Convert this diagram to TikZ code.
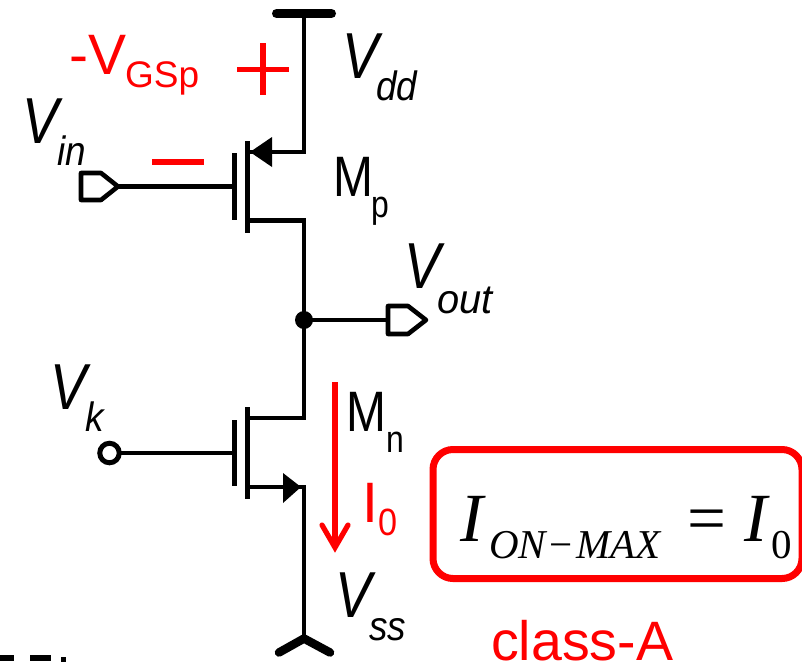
\documentclass[tikz,border=0pt]{standalone}
\usepackage{graphicx}
\usepackage{fontspec}
\setmainfont{Liberation Sans}
\newfontfamily\serifrm{Liberation Serif}
\definecolor{redA}{RGB}{255,0,0}
\tikzset{x=1pt,y=-1pt,
  wire/.style={line width=4.4pt,draw=black,line join=miter},
  plate/.style={line width=5pt,draw=black},
  pin/.style={line width=4.6pt,draw=black,fill=white,line join=round},
  rl/.style={text=redA,inner sep=0pt,anchor=base west},
  vv/.style={inner sep=0pt,anchor=base west,text=black},
  redline/.style={line width=5.2pt,draw=redA},
  bigv/.style={vv,font=\fontsize{65}{65}\selectfont\itshape},
  subv/.style={vv,font=\fontsize{41}{41}\selectfont\itshape},
  bigm/.style={vv,font=\fontsize{57}{57}\selectfont},
  subm/.style={vv,font=\fontsize{38}{38}\selectfont},
}
\newcommand{\nrw}[1]{\scalebox{.84}[1]{#1}}
\newcommand{\nrs}[1]{\scalebox{.9}[1]{#1}}
\begin{document}
\begin{tikzpicture}
\useasboundingbox (0,0) rectangle (802,662);
% supply rails
\coordinate (vddL) at (276.5,13.5); \coordinate (vddR) at (331.5,13.5);
\coordinate (vddT) at (304,13.5);
\node[circle,fill=black,inner sep=0pt,minimum size=18pt] (out) at (304,320) {};
\coordinate (vssT) at (304,638.5);
\coordinate (vssL) at (279,652.5); \coordinate (vssR) at (330,652.5);
\draw[line width=9pt,line cap=round] (vddL) -- (vddR);
\draw[wire] (vddT) -- (304,152) -- (250,152);
\draw[wire] (250,220.5) -- (304,220.5) -- (out.center) -- (304,418) -- (250,418);
\draw[wire] (250,487) -- (304,487) -- (vssT);
\draw[line width=8.5pt,line cap=round,line join=miter] (vssL) -- (vssT) -- (vssR);
% PMOS
\coordinate (pchT) at (247.5,141); \coordinate (pchB) at (247.5,233);
\coordinate (pgT) at (234.7,153); \coordinate (pgB) at (234.7,220);
\draw[plate] (pchT) -- (pchB);
\draw[plate] (pgT) -- (pgB);
\coordinate (pg) at (232,186.5);
\draw[fill=black,draw=none] (250,152) -- (272,137) -- (272,167) -- cycle;
% NMOS
\coordinate (nchT) at (247.5,407); \coordinate (nchB) at (247.5,499);
\coordinate (ngT) at (234.7,420); \coordinate (ngB) at (234.7,486);
\draw[plate] (nchT) -- (nchB);
\draw[plate] (ngT) -- (ngB);
\coordinate (ng) at (232,453);
\draw[fill=black,draw=none] (301,487) -- (283,473) -- (283,503) -- cycle;
% Vin pin
\draw[wire] (118,186.5) -- (pg);
\draw[pin] (81,173) -- (101,173) -- (118,186.5) -- (101,200) -- (81,200) -- cycle;
% Vout pin
\draw[wire] (out.center) -- (388,320);
\draw[pin] (388,306) -- (408,306) -- (426,320) -- (408,334) -- (388,334) -- cycle;
% Vk pin
\node[circle,draw=black,line width=5pt,fill=white,inner sep=0pt,outer sep=0pt,minimum size=19.5pt] (vk) at (109.5,453) {};
\draw[wire] (vk) -- (ng);
% labels
\node[bigv] (lvdd) at (342,78) {\nrw{V}};
\node[subv] (ldd) at (376,100) {\nrs{dd}};
\node[bigv] (lvin) at (22,143) {\nrw{V}};
\node[subv] (lin) at (57,165) {\nrs{in}};
\node[bigv] (lvout) at (404,288) {\nrw{V}};
\node[subv] (lo) at (437,313) {\scalebox{.97}[1]{out}};
\node[bigv] (lvk) at (50,409) {\nrw{V}};
\node[subv] (lk) at (85,431) {\nrs{k}};
\node[bigv] (lvss) at (335,617) {\nrw{V}};
\node[subv] (lss) at (369,640) {\nrs{ss}};
\node[bigm] (lmp) at (333,196) {\nrw{M}};
\node[subm] (lp) at (371,217) {\nrw{p}};
\node[bigm] (lmn) at (346,431) {\nrw{M}};
\node[subm] (ln) at (386,452) {\nrw{n}};
% red
\node[rl,font=\fontsize{57}{57}\selectfont] (lv) at (69,74) {-V};
\node[rl,font=\fontsize{37}{37}\selectfont] (lgsp) at (125,87) {GSp};
\coordinate (plusL) at (237,69.5); \coordinate (plusR) at (289,69.5);
\coordinate (plusT) at (263,43); \coordinate (plusB) at (263,95);
\draw[redline] (plusL) -- (plusR); \draw[redline] (plusT) -- (plusB);
\coordinate (minL) at (152,162); \coordinate (minR) at (204,162);
\draw[redline] (minL) -- (minR);
\coordinate (arT) at (335,382); \coordinate (arB) at (335,547);
\draw[redline] (arT) -- (arB);
\draw[redline,line cap=round,line join=miter] (322,525) -- (335,547.5) -- (348,525);
\node[rl,font=\fontsize{57}{57}\selectfont] (li) at (362,522) {I};
\node[rl,font=\fontsize{38}{38}\selectfont] (l0) at (378,535) {\nrs{0}};
\node[draw=redA,line width=7pt,rounded corners=20pt,minimum width=369pt,minimum height=129pt,inner sep=0pt,outer sep=0pt] (box) at (617.5,514) {};
\node[inner sep=0pt,anchor=base west,font=\fontsize{69}{69}\selectfont\serifrm\itshape] (ii) at (460,541) {I};
\node[inner sep=0pt,anchor=base west,font=\fontsize{41}{41}\selectfont\serifrm\itshape] (on) at (489,558) {ON\kern3.5pt{\upshape−}\kern3.5ptMAX};
\node[inner sep=0pt,anchor=base west,font=\fontsize{69}{69}\selectfont\serifrm] (eq) at (687,541) {=};
\node[inner sep=0pt,anchor=base west,font=\fontsize{69}{69}\selectfont\serifrm\itshape] (i2) at (744,541) {I};
\node[inner sep=0pt,anchor=base west,font=\fontsize{41}{41}\selectfont\serifrm] (z) at (771,558) {0};
\node[rl,font=\fontsize{55.5}{55.5}\selectfont] (cl) at (491,660) {class-A};
% clipped marks at the lower left edge
\fill (0,655) rectangle (14,661);
\fill (30,655) rectangle (51,661);
\fill (61,657) rectangle (66,662);
\end{tikzpicture}
\end{document}
